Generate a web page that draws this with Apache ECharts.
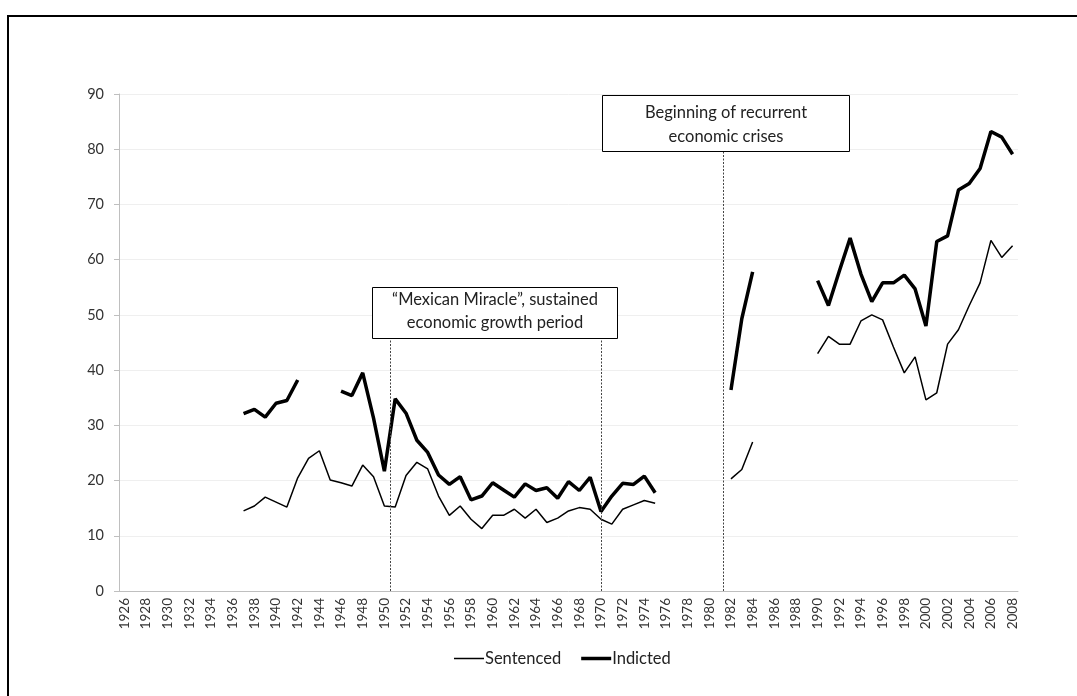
<!DOCTYPE html>
<html>
<head>
<meta charset="utf-8">
<style>
html,body{margin:0;padding:0;background:#fff;}
#chart{width:1077px;height:696px;}
</style>
<script src="https://cdn.jsdelivr.net/npm/echarts@6/dist/echarts.min.js"></script>
</head>
<body>
<div id="chart"></div>
<script>
const years = [];
for (let y = 1926; y <= 2008; y++) years.push(String(y));

// values by year (null = no data)
const sentencedByYear = {
  1937:14.5,1938:15.4,1939:17.0,1940:16.1,1941:15.2,1942:20.5,1943:24.0,1944:25.4,1945:20.1,1946:19.6,
  1947:19.0,1948:22.8,1949:20.7,1950:15.4,1951:15.2,1952:20.9,1953:23.3,1954:22.1,1955:17.2,1956:13.7,
  1957:15.4,1958:13.0,1959:11.3,1960:13.7,1961:13.7,1962:14.8,1963:13.2,1964:14.8,1965:12.4,1966:13.2,
  1967:14.5,1968:15.1,1969:14.8,1970:13.0,1971:12.1,1972:14.8,1973:15.6,1974:16.4,1975:15.9,
  1982:20.3,1983:22.0,1984:27.0,
  1990:43.0,1991:46.1,1992:44.7,1993:44.7,1994:48.9,1995:50.0,1996:49.1,1997:44.2,1998:39.5,1999:42.4,
  2000:34.6,2001:35.9,2002:44.7,2003:47.3,2004:51.7,2005:55.8,2006:63.5,2007:60.4,2008:62.5
};
const indictedByYear = {
  1937:32.1,1938:32.9,1939:31.5,1940:34.0,1941:34.5,1942:38.2,
  1946:36.2,1947:35.4,1948:39.5,1949:31.3,1950:21.7,1951:34.8,1952:32.2,1953:27.3,1954:25.1,1955:21.0,
  1956:19.3,1957:20.7,1958:16.5,1959:17.2,1960:19.6,1961:18.3,1962:17.0,1963:19.4,1964:18.2,1965:18.7,
  1966:16.8,1967:19.8,1968:18.2,1969:20.6,1970:14.4,1971:17.2,1972:19.5,1973:19.3,1974:20.8,1975:17.8,
  1982:36.4,1983:49.3,1984:57.8,
  1990:56.2,1991:51.7,1992:57.9,1993:63.9,1994:57.4,1995:52.4,1996:55.8,1997:55.8,1998:57.2,1999:54.7,
  2000:48.0,2001:63.3,2002:64.3,2003:72.6,2004:73.8,2005:76.5,2006:83.2,2007:82.2,2008:79.1
};
const sentenced = years.map(y => sentencedByYear[y] !== undefined ? sentencedByYear[y] : null);
const indicted = years.map(y => indictedByYear[y] !== undefined ? indictedByYear[y] : null);

// annotation lines: [year position, top value]
const markers = [[1950.5, 45.8], [1970, 45.8], [1981.25, 79.7]];
const boxMiracle = ['\u201CMexican Miracle\u201D, sustained', 'economic growth period'];
const boxCrisis = ['Beginning of recurrent', 'economic crises'];

const FONT = 'Lato, "Open Sans", sans-serif';
const BOXFONT = '16.5px ' + FONT;
const chart = echarts.init(document.getElementById('chart'));
chart.setOption({
  animation: false,
  backgroundColor: '#fff',
  textStyle: {fontFamily: FONT},
  grid: {left: 119, right: 59, top: 94, bottom: 105, containLabel: false},
  legend: {
    data: [
      {name: 'Sentenced', icon: 'path://M0,0h30v1.5h-30z'},
      {name: 'Indicted', icon: 'path://M0,0h30v3.5h-30z'}
    ],
    left: 449, top: 645,
    itemWidth: 30, itemHeight: 20, itemGap: 20,
    symbolKeepAspect: true,
    textStyle: {fontFamily: FONT, fontSize: 16.5, color: '#222', padding: [0,0,0,-4]}
  },
  xAxis: [{
    type: 'category',
    data: years,
    boundaryGap: true,
    axisLine: {lineStyle: {color: '#bfbfbf', width: 1}},
    axisTick: {interval: 0, length: 5, lineStyle: {color: '#bfbfbf'}},
    axisLabel: {interval: 1, rotate: 90, margin: 7, fontSize: 13.5, color: '#333', fontFamily: FONT},
    splitLine: {show: false}
  }, {
    type: 'value', min: 1925.5, max: 2008.5, show: false
  }],
  yAxis: {
    type: 'value', min: 0, max: 90, interval: 10,
    axisLine: {show: true, lineStyle: {color: '#bfbfbf'}},
    axisTick: {show: true, length: 5, lineStyle: {color: '#bfbfbf'}},
    axisLabel: {margin: 15, fontSize: 14.5, color: '#333', fontFamily: FONT},
    splitLine: {lineStyle: {color: '#efefef', width: 1}}
  },
  series: [{
    name: 'Sentenced', type: 'line', data: sentenced,
    symbol: 'none', connectNulls: false,
    lineStyle: {color: '#000', width: 1.5}, itemStyle: {color: '#000'}
  }, {
    name: 'Indicted', type: 'line', data: indicted,
    symbol: 'none', connectNulls: false,
    lineStyle: {color: '#000', width: 3.5}, itemStyle: {color: '#000'}
  }, {
    type: 'line', xAxisIndex: 1, data: [], silent: true,
    markLine: {
      silent: true, symbol: 'none', label: {show: false},
      lineStyle: {color: '#444', type: [2, 1.5], width: 1},
      data: markers.map(m => [{coord: [m[0], 0]}, {coord: [m[0], m[1]]}])
    }
  }],
  graphic: [
    {type: 'line', shape: {x1: 7, y1: 16, x2: 1077, y2: 16}, style: {stroke: '#000', lineWidth: 2}},
    {type: 'line', shape: {x1: 8, y1: 16, x2: 8, y2: 696}, style: {stroke: '#000', lineWidth: 2}},
    {type: 'rect', shape: {x: 372.5, y: 287.5, width: 245, height: 51}, style: {fill: '#fff', stroke: '#000', lineWidth: 1}, z: 100},
    {type: 'text', x: 495, y: 300, style: {text: boxMiracle[0], font: BOXFONT, fill: '#222', textAlign: 'center', textVerticalAlign: 'middle'}, z: 101},
    {type: 'text', x: 495, y: 323, style: {text: boxMiracle[1], font: BOXFONT, fill: '#222', textAlign: 'center', textVerticalAlign: 'middle'}, z: 101},
    {type: 'rect', shape: {x: 602.5, y: 95.5, width: 247, height: 56}, style: {fill: '#fff', stroke: '#000', lineWidth: 1}, z: 100},
    {type: 'text', x: 726, y: 113, style: {text: boxCrisis[0], font: BOXFONT, fill: '#222', textAlign: 'center', textVerticalAlign: 'middle'}, z: 101},
    {type: 'text', x: 726, y: 137, style: {text: boxCrisis[1], font: BOXFONT, fill: '#222', textAlign: 'center', textVerticalAlign: 'middle'}, z: 101}
  ]
});
</script>
</body>
</html>
